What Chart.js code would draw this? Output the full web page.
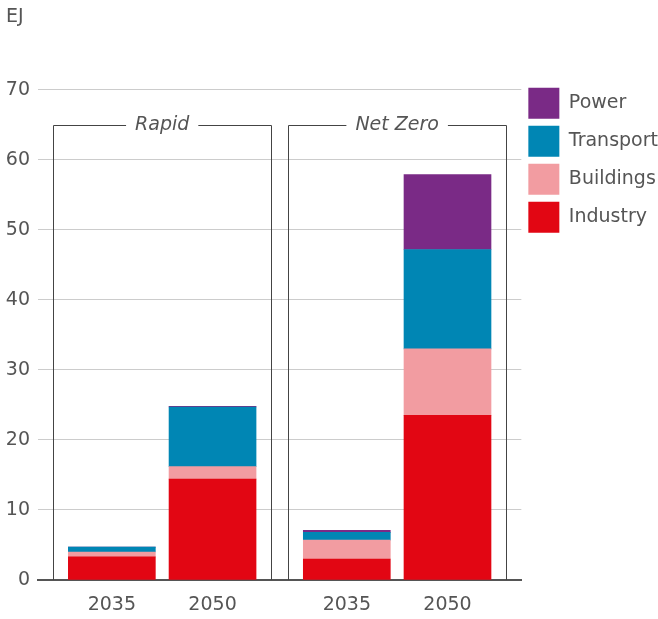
<!DOCTYPE html>
<html>
<head>
  <meta charset="utf-8">
  <title>EJ by sector</title>
  <script src="https://cdnjs.cloudflare.com/ajax/libs/Chart.js/4.4.0/chart.umd.min.js"></script>
  <style>
    body {
      margin: 0;
      background: #fff;
    }
    .wrap {
      width: 658px;
      height: 619px;
    }
  </style>
</head>
<body>
  <div class="wrap">
    <canvas id="chart"></canvas>
  </div>

  <script>
    // data
    const scenarios = ['Rapid', 'Net Zero'];
    const years = ['2035', '2050'];
    const industry = [3.3, 14.4, 3.0, 23.5];
    const buildings = [0.7, 1.8, 2.7, 9.5];
    const transport = [0.7, 8.5, 1.1, 14.2];
    const power = [0, 0.1, 0.3, 10.7];
    const yTicks = [0, 10, 20, 30, 40, 50, 60, 70];

    // layout of the bars on the x axis: years spaced 3 units, scenarios 7 units apart
    const yearStep = 3;
    const groupStep = 7;
    const panelHalf = 3.25;
    const panelTop = 65;
    const font = '"DejaVu Sans", sans-serif';
    const textColor = '#555';

    const slots = [];
    const slotLabels = [];
    scenarios.forEach((s, g) => {
      years.forEach((yr, i) => {
        slots.push(g * groupStep + i * yearStep);
        slotLabels.push(yr);
      });
    });
    const groupCenter = g => g * groupStep + (years.length - 1) * yearStep / 2;

    function series(values) {
      return values.map((v, i) => ({ x: slots[i], y: v }));
    }

    // scenario boxes with italic titles
    const panelBoxes = {
      id: 'panelBoxes',
      beforeDatasetsDraw(chart) {
        const { ctx, scales: { x, y } } = chart;
        ctx.save();
        ctx.font = 'italic 19px ' + font;
        ctx.lineWidth = 1;
        ctx.strokeStyle = '#444';
        scenarios.forEach((name, g) => {
          const c = groupCenter(g);
          const l = Math.round(x.getPixelForValue(c - panelHalf)) + 0.5;
          const r = Math.round(x.getPixelForValue(c + panelHalf)) + 0.5;
          const t = Math.round(y.getPixelForValue(panelTop)) + 0.5;
          const b = y.getPixelForValue(0);
          const cx = x.getPixelForValue(c);
          const w = ctx.measureText(name).width;
          ctx.beginPath();
          ctx.moveTo(l, b);
          ctx.lineTo(l, t);
          ctx.lineTo(cx - w / 2 - 9, t);
          ctx.moveTo(cx + w / 2 + 9, t);
          ctx.lineTo(r, t);
          ctx.lineTo(r, b);
          ctx.stroke();
          ctx.fillStyle = textColor;
          ctx.textAlign = 'center';
          ctx.textBaseline = 'middle';
          ctx.fillText(name, cx, t);
        });
        ctx.restore();
      }
    };

    const ctx = document.getElementById('chart').getContext('2d');
    new Chart(ctx, {
      type: 'bar',
      data: {
        datasets: [
          { label: 'Industry', data: series(industry), backgroundColor: '#e20613' },
          { label: 'Buildings', data: series(buildings), backgroundColor: '#f29ca1' },
          { label: 'Transport', data: series(transport), backgroundColor: '#0086b4' },
          { label: 'Power', data: series(power), backgroundColor: '#7a2a86' }
        ]
      },
      options: {
        responsive: true,
        maintainAspectRatio: false,
        animation: false,
        datasets: {
          bar: { barThickness: 87, borderWidth: 0 }
        },
        layout: {
          padding: { left: 6, right: -10, top: 0, bottom: 2 }
        },
        plugins: {
          title: {
            display: true,
            text: 'EJ',
            align: 'start',
            color: textColor,
            font: { family: font, size: 19, weight: 'normal' },
            padding: { top: 6, bottom: 61 }
          },
          legend: {
            position: 'right',
            align: 'start',
            reverse: true,
            title: {
              display: true,
              text: '',
              font: { family: font, size: 19 },
              padding: { top: 58, bottom: 0 }
            },
            labels: {
              boxWidth: 31,
              boxHeight: 31,
              padding: 7,
              color: textColor,
              font: { family: font, size: 19 }
            }
          },
          tooltip: { enabled: false }
        },
        scales: {
          x: {
            type: 'linear',
            stacked: true,
            offset: false,
            min: -2.2,
            max: 12.2,
            grid: { display: false, drawTicks: false, offset: false },
            border: { display: true, color: '#555', width: 2 },
            afterBuildTicks(axis) {
              axis.ticks = slots.map(v => ({ value: v }));
            },
            afterFit(axis) {
              axis.height = 37;
            },
            ticks: {
              autoSkip: false,
              maxRotation: 0,
              padding: 14,
              color: textColor,
              font: { family: font, size: 19 },
              callback(value) {
                const i = slots.indexOf(value);
                return i >= 0 ? slotLabels[i] : '';
              }
            }
          },
          y: {
            stacked: true,
            min: 0,
            max: 70,
            grid: { color: '#cccccc', lineWidth: 1, drawTicks: false },
            border: { display: false },
            afterBuildTicks(axis) {
              axis.ticks = yTicks.map(v => ({ value: v }));
            },
            afterFit(axis) {
              axis.width = 32;
            },
            ticks: {
              padding: 8,
              color: textColor,
              font: { family: font, size: 19 }
            }
          }
        }
      },
      plugins: [panelBoxes]
    });
  </script>
</body>
</html>
